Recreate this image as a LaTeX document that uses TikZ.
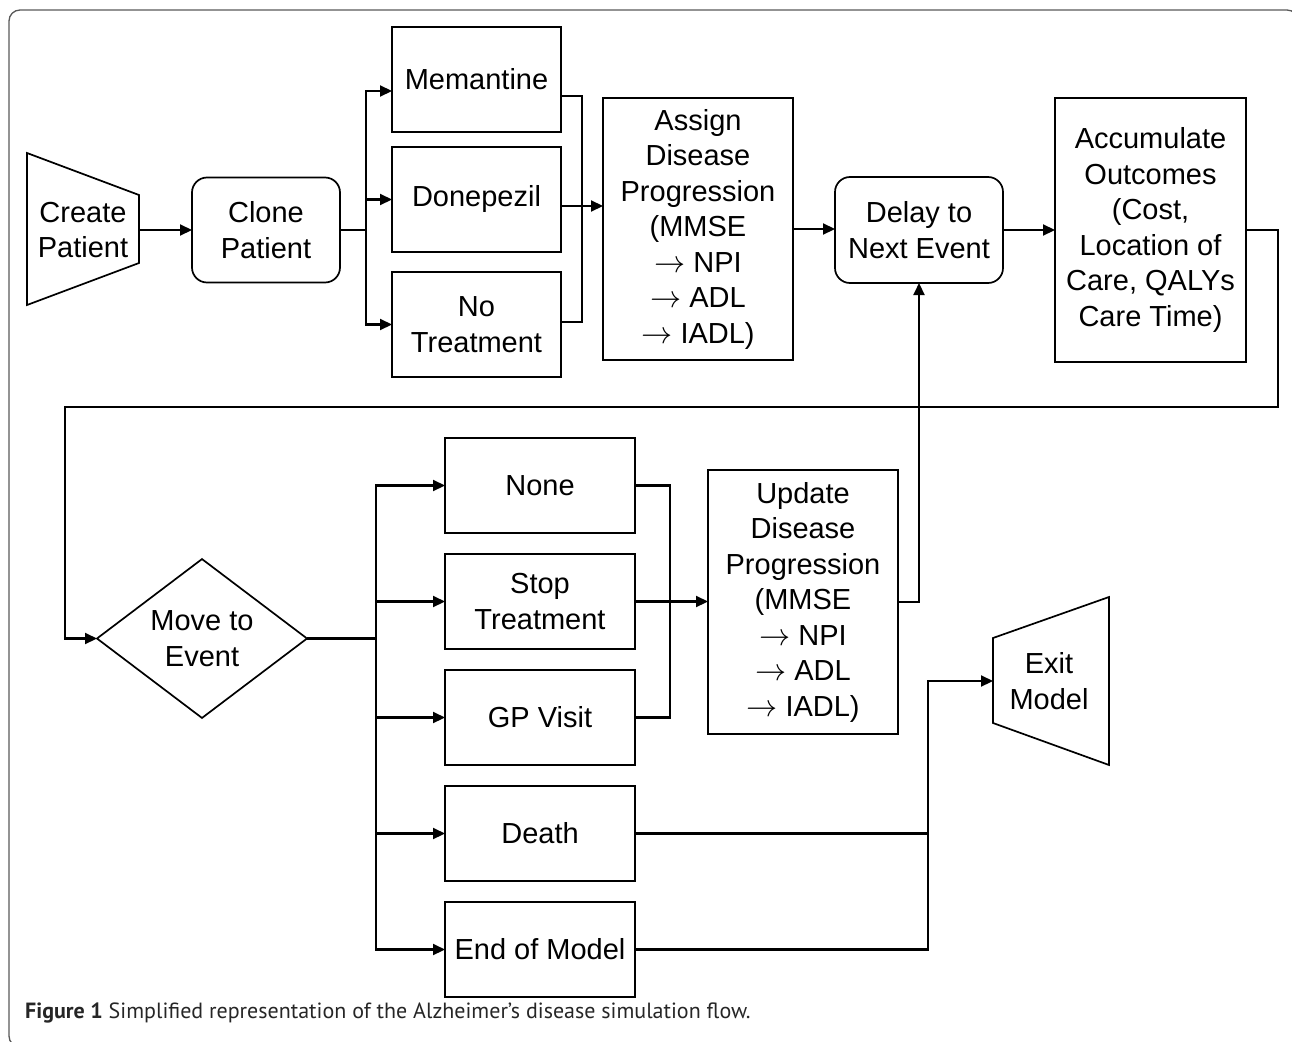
\documentclass[tikz,border=0pt]{standalone}
\usepackage{fontspec}
\setmainfont{Liberation Sans}
\newfontfamily\capfont{PT Sans}
\usetikzlibrary{arrows.meta,shapes.geometric}
\newcommand\myrarr{\scalebox{1.25}{$\rightarrow$}}
\begin{document}
\begin{tikzpicture}[x=1pt,y=-1pt,
  lbl/.style={font=\fontsize{29}{35.5}\selectfont, align=center, inner sep=0pt, outer sep=0pt},
  boxx/.style={lbl, draw, line width=1.7pt, rectangle},
  rbox/.style={boxx, rounded corners=15pt},
  conn/.style={line width=2.1pt},
  arr/.style={conn, -{Triangle[length=12pt,width=11pt]}},
  shp/.style={draw, line width=1.7pt, line join=miter}
]
\useasboundingbox (0,0) rectangle (1292,1041);
\begin{scope}
\clip (0,0) rectangle (1292,1041);
\draw[black!65, line width=1.3pt, rounded corners=11pt] (9,10) rectangle (1298,1047);
\end{scope}

% Create patient trapezoid
\draw[shp] (27,153) -- (139,195) -- (139,263) -- (27,305) -- cycle;
\node[lbl] (create) at (83,230) {Create\\Patient};
\coordinate (createE) at (139,230);

\node[rbox, minimum width=148pt, minimum height=105pt] (clone) at (266,230) {Clone\\Patient};

\node[boxx, minimum width=169pt, minimum height=105pt] (mem) at (476.5,79.5) {Memantine};
\node[boxx, minimum width=169pt, minimum height=105pt] (done) at (476.5,199.5) {Donepezil};
\node[boxx, minimum width=169pt, minimum height=105pt] (notr) at (476.5,324.5) {No\\Treatment};

\node[boxx, minimum width=190pt, minimum height=262pt] (assign) at (698,229)
  {Assign\\Disease\\Progression\\(MMSE\\\myrarr{} NPI\\\myrarr{} ADL\\ \myrarr{} IADL)};

\node[rbox, minimum width=168pt, minimum height=106pt] (delay) at (919,230) {Delay to\\Next Event};

\node[boxx, minimum width=191pt, minimum height=264pt] (accum) at (1150.5,230)
  {Accumulate\\Outcomes\\(Cost,\\Location of\\Care, QALYs\\Care Time)};

\node[lbl, draw, line width=1.7pt, diamond, minimum width=210pt, minimum height=147pt] (move) at (202,638.5) {Move to\\Event};

\node[boxx, minimum width=190pt, minimum height=95pt] (none) at (540,485.5) {None};
\node[boxx, minimum width=190pt, minimum height=95pt] (stop) at (540,601.5) {Stop\\Treatment};
\node[boxx, minimum width=190pt, minimum height=95pt] (gp) at (540,717.5) {GP Visit};
\node[boxx, minimum width=190pt, minimum height=95pt] (death) at (540,833.5) {Death};
\node[boxx, minimum width=190pt, minimum height=95pt] (endm) at (540,949.5) {End of Model};

\node[boxx, minimum width=190pt, minimum height=264pt] (update) at (803,602)
  {Update\\Disease\\Progression\\(MMSE\\\myrarr{} NPI\\\myrarr{} ADL\\ \myrarr{} IADL)};

% Exit model trapezoid
\draw[shp] (993,638) -- (1109,597) -- (1109,765) -- (993,723) -- cycle;
\node[lbl] (exitm) at (1049,681) {Exit\\Model};
\coordinate (exitW) at (993,681);

% junction coordinates
\coordinate (br1) at (366,230);
\coordinate (jn1) at (582,200);
\coordinate (lr) at (1278,407);
\coordinate (ll) at (65,407);
\coordinate (br2) at (376,638.5);
\coordinate (jn2) at (670,600);
\coordinate (jn3) at (928,800);

% connectors
\draw[arr] (createE) -- (clone.west);
\draw[conn] (clone.east) -- (br1);
\draw[arr] (br1) |- ([yshift=-11.5pt]mem.west);
\draw[arr] (br1) |- (done.west);
\draw[arr] (br1) |- (notr.west);
\draw[conn] ([yshift=-16.5pt]mem.east) -| (jn1) |- ([yshift=2.5pt]notr.east);
\draw[arr] ([yshift=-6.5pt]done.east) -- ([yshift=-6.5pt]done.east -| assign.west);
\draw[arr] (assign.east) -- (assign.east -| delay.west);
\draw[arr] (delay.east) -- (delay.east -| accum.west);
\draw[arr] (accum.east) -| (lr) -- (ll) |- (move.west);

\draw[conn] (move.east) -- (br2);
\draw[arr] (br2) |- (none.west);
\draw[arr] (br2) |- (stop.west);
\draw[arr] (br2) |- (gp.west);
\draw[arr] (br2) |- (death.west);
\draw[arr] (br2) |- (endm.west);

\draw[conn] (none.east) -| (jn2) |- (gp.east);
\draw[arr] (stop.east) -- (stop.east -| update.west);
\draw[arr] (update.east) -| (delay.south);
\draw[arr] (death.east) -| (jn3) |- (exitW);
\draw[conn] (endm.east) -| (jn3);

% caption
\node[anchor=base west, inner sep=0pt, font=\capfont\fontsize{22}{24}\selectfont, text=black!85] (cap) at (25,1018)
  {\textbf{Figure 1} Simplified representation of the Alzheimer’s disease simulation flow.};
\end{tikzpicture}
\end{document}
